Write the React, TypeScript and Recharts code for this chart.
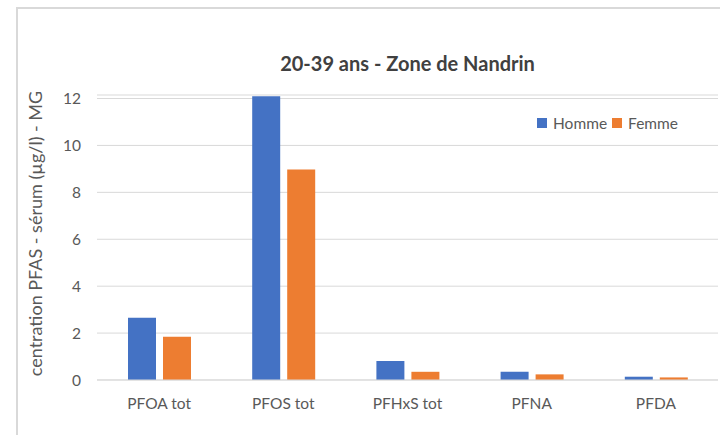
import { BarChart, Bar, XAxis, YAxis, CartesianGrid, Label } from 'recharts'

const categories = ['PFOA tot', 'PFOS tot', 'PFHxS tot', 'PFNA', 'PFDA']
const homme = [2.65, 12.1, 0.81, 0.35, 0.14]
const femme = [1.84, 8.97, 0.35, 0.24, 0.11]
const yTicks = [0, 2, 4, 6, 8, 10, 12]
const seriesNames = ['Homme', 'Femme']
const COLORS = ['#4472C4', '#ED7D31']

const data = categories.map((name, i) => ({ name, Homme: homme[i], Femme: femme[i] }))

const FONT = 'Lato, "Open Sans", sans-serif'
const TEXT = '#595959'

function YLabel({ viewBox }: any) {
  const cy = viewBox.y + viewBox.height / 2
  return (
    <text
      x={35}
      y={cy - 4}
      transform={`rotate(-90, 35, ${cy - 4})`}
      textAnchor="middle"
      dominantBaseline="central"
      fill={TEXT}
      fontSize={18}
      fontFamily={FONT}
    >
      centration PFAS - sérum (µg/l) - MG
    </text>
  )
}

export default function App() {
  return (
    <div style={{ position: 'absolute', left: 0, top: 0, width: 720, height: 435, overflow: 'hidden', background: '#fff', fontFamily: FONT }}>
      <div style={{ position: 'absolute', left: 16, top: 7, width: 800, height: 500, borderLeft: '2px solid #d9d9d9', borderTop: '2px solid #d9d9d9' }} />
      <div style={{ position: 'absolute', left: 97, width: 621, top: 51, textAlign: 'center', fontSize: 20, fontWeight: 700, color: '#404040' }}>
        20-39 ans - Zone de Nandrin
      </div>
      <div style={{ position: 'absolute', left: 537, top: 114, display: 'flex', alignItems: 'center', fontSize: 15.5, color: TEXT }}>
        {seriesNames.map((n, i) => (
          <div key={n} style={{ display: 'flex', alignItems: 'center', marginRight: 5 }}>
            <span style={{ display: 'inline-block', width: 10, height: 10, background: COLORS[i], marginRight: 6 }} />
            <span>{n}</span>
          </div>
        ))}
      </div>
      <div style={{ position: 'absolute', left: 0, top: 0 }}>
        <BarChart
          width={720}
          height={435}
          data={data}
          margin={{ top: 95, right: 2, left: 0, bottom: 15 }}
          barCategoryGap={31}
          barGap={7}
        >
          <CartesianGrid vertical={false} stroke="#d9d9d9" strokeWidth={1} />
          <XAxis
            dataKey="name"
            axisLine={{ stroke: '#d9d9d9' }}
            tickLine={false}
            tickSize={0}
            tickMargin={18}
            height={40}
            tick={{ fontSize: 15.5, fill: TEXT, fontFamily: FONT }}
          />
          <YAxis
            domain={[0, 12.15]}
            ticks={yTicks}
            width={97}
            axisLine={false}
            tickLine={false}
            tickSize={0}
            tickMargin={16}
            tick={{ fontSize: 15.5, fill: TEXT, fontFamily: FONT }}
          >
            <Label content={<YLabel />} />
          </YAxis>
          {seriesNames.map((n, i) => (
            <Bar key={n} dataKey={n} fill={COLORS[i]} isAnimationActive={false} />
          ))}
        </BarChart>
      </div>
    </div>
  )
}
